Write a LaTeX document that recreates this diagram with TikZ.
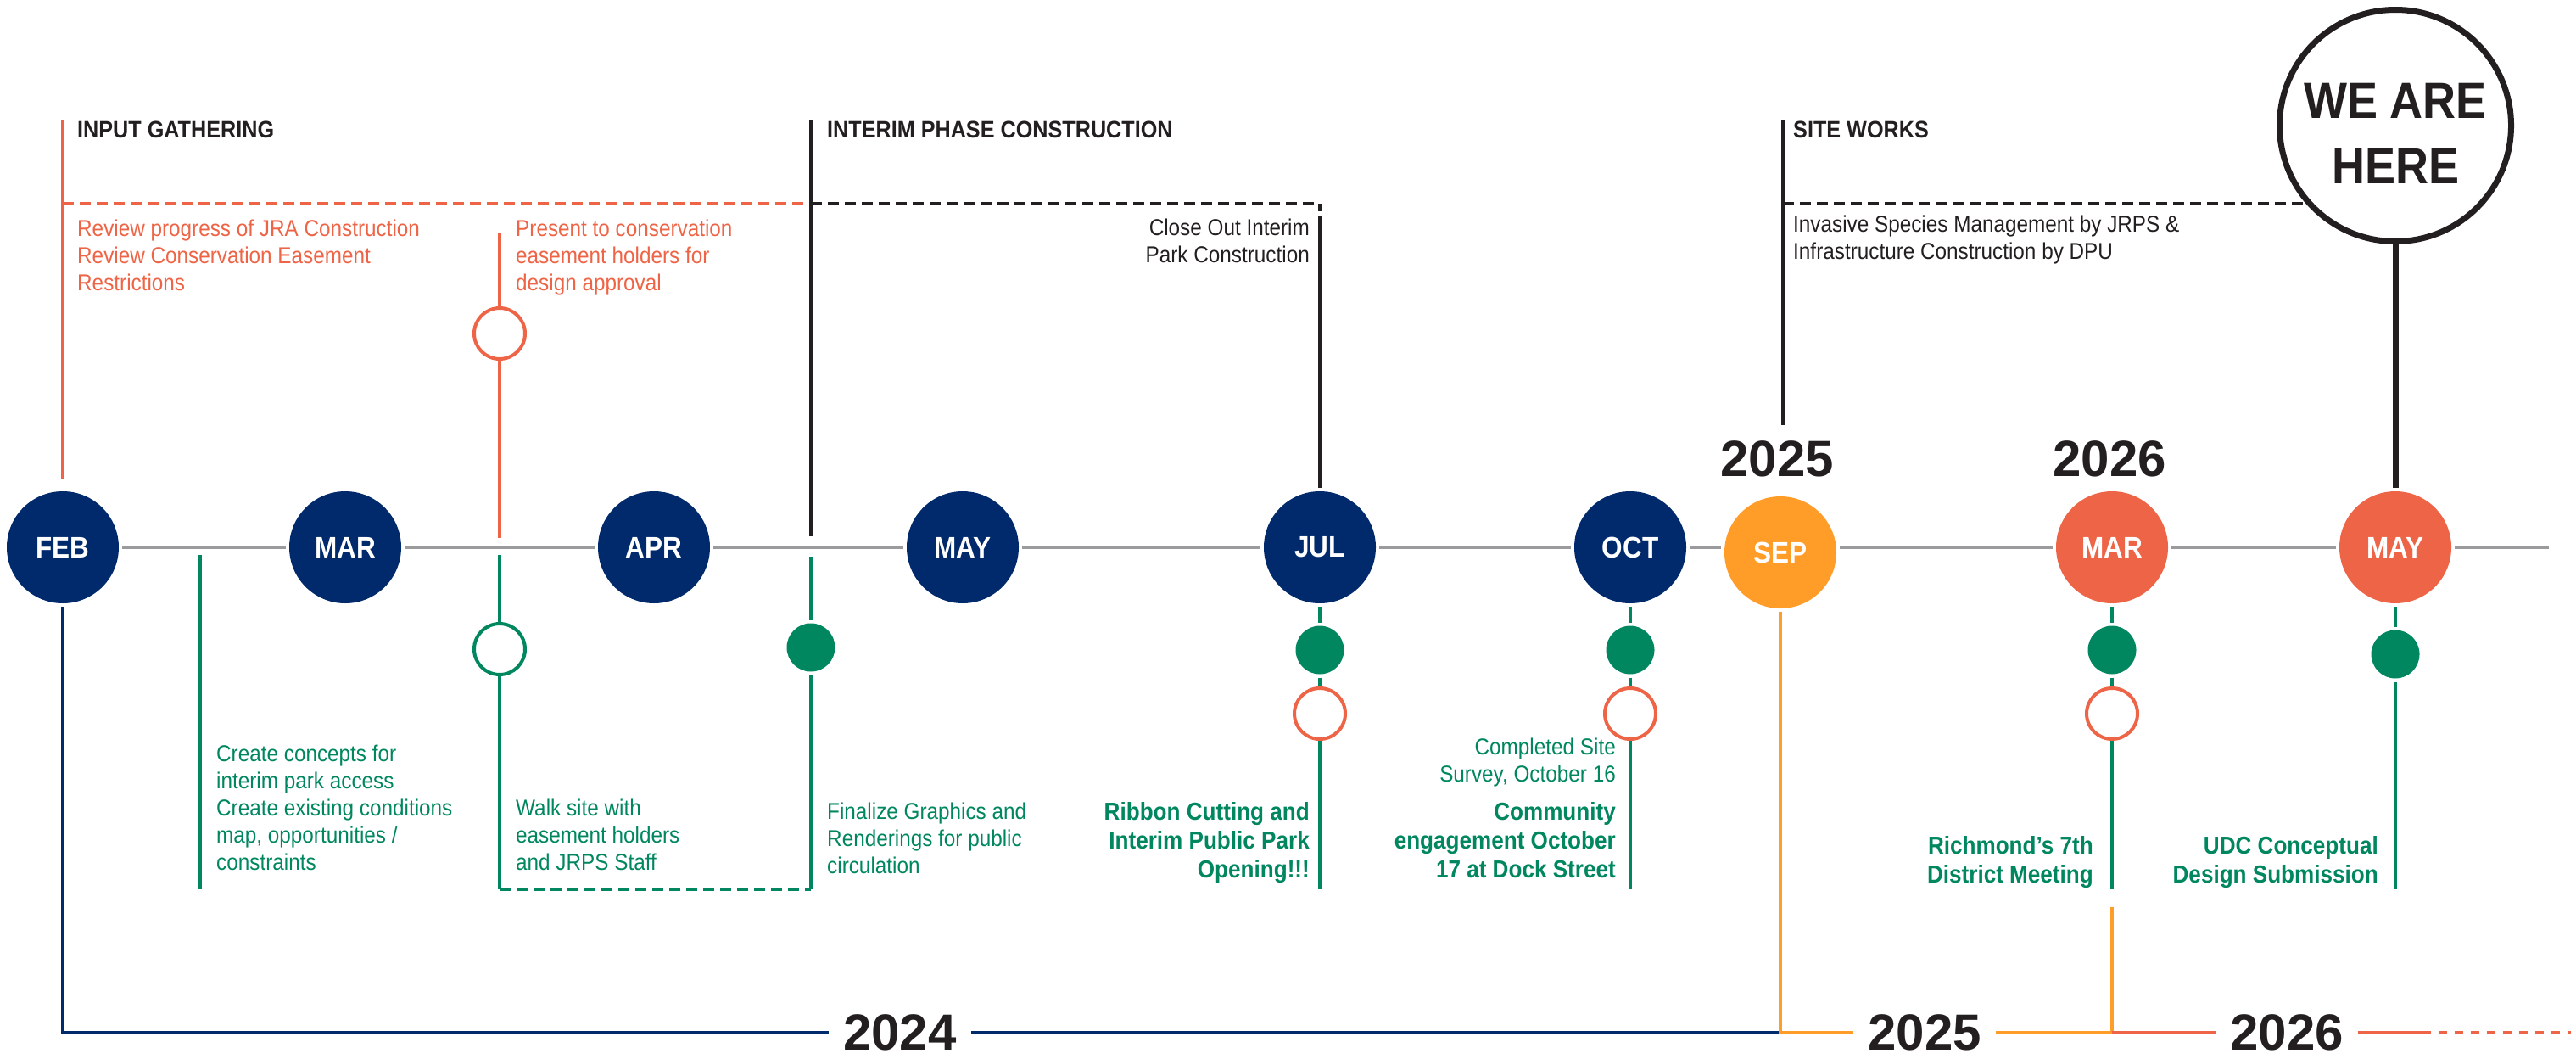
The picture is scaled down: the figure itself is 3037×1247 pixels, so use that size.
\documentclass[tikz,border=0pt]{standalone}
\usepackage{fontspec}
\setmainfont{Liberation Sans}[FakeStretch=0.9]
\newfontfamily\yearfont{Liberation Sans}
\definecolor{navy}{HTML}{012A6C}
\definecolor{parkgreen}{HTML}{00875F}
\definecolor{coral}{HTML}{EE6446}
\definecolor{sunorange}{HTML}{FF9D28}
\definecolor{spinegrey}{HTML}{9B9B9E}
\definecolor{inkblack}{HTML}{231F20}
\begin{document}
\begin{tikzpicture}[x=1pt, y=-1pt,
  monthnode/.style={circle, fill=#1, text=white, minimum size=132pt, inner sep=0pt, outer sep=4pt, font=\bfseries\fontsize{35}{35}\selectfont},
  fulldot/.style={circle, fill=parkgreen, minimum size=57pt, inner sep=0pt, outer sep=4pt},
  openring/.style={circle, draw=#1, fill=white, line width=4pt, minimum size=60pt, inner sep=0pt, outer sep=2pt},
  heading/.style={anchor=north west, inner sep=0pt, text=inkblack, font=\bfseries\fontsize{28}{32}\selectfont},
  note/.style={anchor=north west, inner sep=0pt, align=left, text=#1, font=\fontsize{27}{32}\selectfont},
  rnote/.style={anchor=north east, inner sep=0pt, align=right, text=#1, font=\fontsize{27}{32}\selectfont},
  bnote/.style={anchor=north east, inner sep=0pt, align=right, text=parkgreen, font=\bfseries\fontsize{29}{34}\selectfont},
  yearlbl/.style={inner xsep=17pt, inner ysep=0pt, text=inkblack, font=\yearfont\bfseries\fontsize{60}{60}\selectfont},
  spine/.style={draw=spinegrey, line width=4pt},
  stem/.style={draw=#1, line width=3.5pt},
  dashstem/.style={draw=#1, line width=4pt, dash pattern=on 13pt off 7pt},
  baseline/.style={draw=#1, line width=4.5pt}]
\useasboundingbox (0,0) rectangle (3037,1247);

% months on the spine
\foreach \m/\x/\t in {feb/74/FEB, mar/407/MAR, apr/771/APR, may/1135/MAY, jul/1556/JUL, oct/1922/OCT}
  \node[monthnode=navy] (\m) at (\x,645) {\t};
\node[monthnode=sunorange] (sep) at (2099,651) {SEP};
\node[monthnode=coral] (mar26) at (2490,645) {MAR};
\node[monthnode=coral] (may26) at (2824,645) {MAY};
\coordinate (spineend) at (3005,645);

\foreach \a/\b in {feb/mar, mar/apr, apr/may, may/jul, jul/oct, mar26/may26, may26/spineend}
  \draw[spine] (\a) -- (\b);
\draw[spine] (oct) -- (sep.west |- oct);
\draw[spine] (sep.east |- mar26) -- (mar26);

% years
\node[yearlbl] (y25top) at (2095,541) {2025};
\node[yearlbl] (y26top) at (2487,541) {2026};
\node[yearlbl] (y24) at (1061,1217) {2024};
\node[yearlbl] (y25) at (2269,1217) {2025};
\node[yearlbl] (y26) at (2696,1217) {2026};
\coordinate (mar26low) at (2490,1069);
\coordinate (tail) at (2856,1217);
\coordinate (tailend) at (3031,1217);

\draw[baseline=navy] (feb) |- (y24);
\draw[baseline=navy] (y24) -- (y24 -| sep);
\draw[baseline=sunorange] (sep) |- (y25);
\draw[baseline=sunorange] (mar26low) |- (y25);
\draw[baseline=coral] (y25 -| mar26) -- (y26);
\draw[baseline=coral] (y26) -- (tail);
\draw[baseline=coral, dash pattern=on 10pt off 9pt] (tail) -- (tailend);

% phases above the spine
\node[heading] (ighead) at (91,143) {INPUT GATHERING};
\node[heading] (iphead) at (975,143) {INTERIM PHASE CONSTRUCTION};
\node[heading] (swhead) at (2114,143) {SITE WORKS};

\coordinate (igtop) at (74,141);
\coordinate (igdash) at (74,240);
\coordinate (iptop) at (956,141);
\coordinate (ipdash) at (956,240);
\coordinate (ipfoot) at (956,632);
\coordinate (julhook) at (1556,249);
\coordinate (julstem) at (1556,255);
\coordinate (swtop) at (2102,141);
\coordinate (swdash) at (2102,240);
\coordinate (swfoot) at (2102,501);
\coordinate (prtop) at (589,275);
\coordinate (prfoot) at (589,634);
\node[openring=coral] (pr) at (589,393) {};

\draw[stem=coral, shorten >=10pt] (igtop) -- (feb);
\draw[dashstem=coral] (igdash) -- (ipdash);
\draw[stem=coral] (prtop) -- (pr);
\draw[stem=coral] (pr) -- (prfoot);
\draw[stem=inkblack] (iptop) -- (ipfoot);
\draw[dashstem=inkblack] (ipdash) -| (julhook);
\draw[stem=inkblack] (julstem) -- (jul);
\draw[stem=inkblack] (swtop) -- (swfoot);

\node[circle, draw=inkblack, line width=7pt, fill=white, minimum size=273pt, inner sep=0pt] (here) at (2824,148) {};
\node[align=center, text=inkblack, font=\bfseries\fontsize{60}{77}\selectfont] (heretext) at (2824,157) {WE ARE\\HERE};
\draw[dashstem=inkblack] (swdash) -- (swdash -| here.220);
\draw[draw=inkblack, line width=7pt] (here) -- (may26);

\node[note=coral] (ignote) at (91,259) {Review progress of JRA Construction\\Review Conservation Easement\\Restrictions};
\node[note=coral] (prnote) at (608,259) {Present to conservation\\easement holders for\\design approval};
\node[rnote=inkblack] (conote) at (1544,258) {Close Out Interim\\Park Construction};
\node[note=inkblack] (swnote) at (2114,254) {Invasive Species Management by JRPS \&\\Infrastructure Construction by DPU};

% tasks below the spine
\coordinate (cctop) at (236,654);
\coordinate (ccfoot) at (236,1048);
\coordinate (wktop) at (589,654);
\coordinate (wkfoot) at (589,1048);
\coordinate (fgtop) at (956,656);
\coordinate (fgfoot) at (956,1048);
\node[openring=parkgreen] (wk) at (589,765) {};
\node[fulldot] (fg) at (956,763) {};

\draw[stem=parkgreen] (cctop) -- (ccfoot);
\draw[stem=parkgreen] (wktop) -- (wk);
\draw[stem=parkgreen] (wk) -- (wkfoot);
\draw[dashstem=parkgreen] (wkfoot) -- (fgfoot);
\draw[stem=parkgreen] (fgtop) -- (fg);
\draw[stem=parkgreen] (fg) -- (fgfoot);

\foreach \m/\x in {jul/1556, oct/1922, mar26/2490} {
  \node[fulldot] (\m-dot) at (\x,766) {};
  \node[openring=coral] (\m-ring) at (\x,841) {};
  \coordinate (\m-foot) at (\x,1048);
  \draw[stem=parkgreen] (\m) -- (\m-dot);
  \draw[stem=parkgreen] (\m-dot) -- (\m-ring);
  \draw[stem=parkgreen] (\m-ring) -- (\m-foot);
}
\node[fulldot] (may26-dot) at (2824,771) {};
\coordinate (may26-foot) at (2824,1048);
\draw[stem=parkgreen] (may26) -- (may26-dot);
\draw[stem=parkgreen] (may26-dot) -- (may26-foot);

\node[note=parkgreen] (ccnote) at (255,878) {Create concepts for\\interim park access\\Create existing conditions\\map, opportunities /\\constraints};
\node[note=parkgreen] (wknote) at (608,942) {Walk site with\\easement holders\\and JRPS Staff};
\node[note=parkgreen] (fgnote) at (975,946) {Finalize Graphics and\\Renderings for public\\circulation};
\node[bnote] (rcnote) at (1544,945) {Ribbon Cutting and\\Interim Public Park\\Opening!!!};
\node[rnote=parkgreen] (csnote) at (1905,870) {Completed Site\\Survey, October 16};
\node[bnote] (cenote) at (1905,945) {Community\\engagement October\\17 at Dock Street};
\node[bnote] (rdnote) at (2468,985) {Richmond’s 7th\\District Meeting};
\node[bnote] (udcnote) at (2804,985) {UDC Conceptual\\Design Submission};
\end{tikzpicture}
\end{document}
